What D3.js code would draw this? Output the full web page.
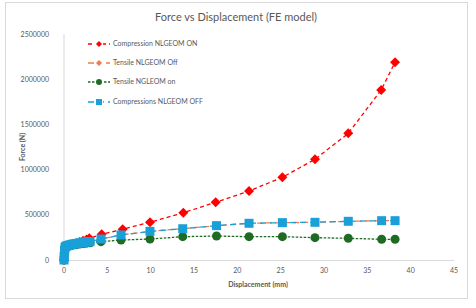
<!DOCTYPE html>
<html>
<head>
<meta charset="utf-8">
<script src="https://cdn.jsdelivr.net/npm/d3@7"></script>
<style>
  body { margin: 0; background: #fff; }
  text { font-family: Lato, "Open Sans", sans-serif; }
</style>
</head>
<body>
<div id="chart"></div>
<script>
// Compression NLGEOM ON
const compOnX = [0, 0.05, 0.1, 0.2, 0.4, 0.7, 1.0, 1.4, 1.8, 2.2, 2.6, 2.92, 4.35, 6.77, 9.92, 13.77, 17.5, 21.35, 25.2, 28.96, 32.8, 36.6, 38.2];
const compOnY = [0, 80000, 140000, 152000, 160000, 168000, 176000, 186000, 198000, 212000, 226000, 240000, 284000, 340000, 417000, 523000, 638000, 763000, 915000, 1114000, 1401000, 1881000, 2187000];
// Tensile NLGEOM Off
const tensOffX = [0, 0.05, 0.1, 0.2, 0.4, 0.7, 1.0, 1.4, 1.8, 2.2, 2.6, 3.0, 4.27, 6.58, 9.92, 13.7, 17.6, 21.35, 25.2, 28.96, 32.8, 36.65, 38.2];
const tensOffY = [0, 70000, 135000, 150000, 157000, 165000, 172000, 180000, 187000, 194000, 199000, 203000, 232000, 277000, 317000, 346000, 380000, 406000, 413000, 417000, 428000, 435000, 435000];
// Tensile NGLEOM on
const tensOnX = [0, 0.05, 0.1, 0.2, 0.4, 0.7, 1.0, 1.4, 1.8, 2.2, 2.6, 3.0, 4.27, 6.58, 9.92, 13.7, 17.6, 21.35, 25.2, 28.96, 32.8, 36.65, 38.2];
const tensOnY = [0, 70000, 130000, 145000, 152000, 158000, 164000, 170000, 176000, 181000, 186000, 191000, 203000, 221000, 232000, 258000, 265000, 258000, 258000, 247000, 240000, 229000, 229000];
// Compressions NLGEOM OFF
const compOffX = [0, 0.02, 0.05, 0.08, 0.12, 0.2, 0.3, 0.45, 0.6, 0.8, 1.0, 1.2, 1.4, 1.6, 1.8, 2.0, 2.2, 2.4, 2.6, 2.8, 3.0, 4.27, 6.58, 9.92, 13.7, 17.6, 21.35, 25.2, 28.96, 32.8, 36.65, 38.2];
const compOffY = [0, 30000, 70000, 110000, 140000, 150000, 155000, 160000, 165000, 170000, 175000, 178000, 182000, 185000, 188000, 192000, 195000, 198000, 200000, 202000, 203000, 232000, 277000, 317000, 346000, 380000, 406000, 413000, 417000, 428000, 435000, 435000];

const seriesNames = ["Compression NLGEOM ON", "Tensile NLGEOM Off", "Tensile NGLEOM on", "Compressions NLGEOM OFF"];
const xTicks = [0, 5, 10, 15, 20, 25, 30, 35, 40, 45];
const yTicks = [0, 500000, 1000000, 1500000, 2000000, 2500000];

const W = 476, H = 308;
const svg = d3.select("#chart").append("svg").attr("width", W).attr("height", H);

svg.append("rect").attr("x", 5.5).attr("y", 2.5).attr("width", 462).attr("height", 296)
   .attr("fill", "#fff").attr("stroke", "#d9d9d9");

const x = d3.scaleLinear().domain([0, 45]).range([64, 454]);
const y = d3.scaleLinear().domain([0, 2500000]).range([260, 34]);

// axes lines
svg.append("line").attr("x1", x(0)).attr("x2", x(0)).attr("y1", y(2500000)).attr("y2", y(0))
   .attr("stroke", "#d9d9d9");
svg.append("line").attr("x1", x(0)).attr("x2", x(45)).attr("y1", y(0) + 0.5).attr("y2", y(0) + 0.5)
   .attr("stroke", "#d9d9d9");

svg.selectAll(".xt").data(xTicks).join("text")
   .attr("x", d => x(d)).attr("y", 272.5).attr("text-anchor", "middle")
   .attr("font-size", 7).attr("fill", "#595959").text(d => d);

svg.selectAll(".yt").data(yTicks).join("text")
   .attr("x", 49).attr("y", d => y(d) + 2.5).attr("text-anchor", "end")
   .attr("font-size", 7).attr("fill", "#595959").text(d => d);

svg.append("text").attr("x", 236).attr("y", 21).attr("text-anchor", "middle")
   .attr("font-size", 11).attr("fill", "#595959").text("Force vs Displacement (FE model)");
svg.append("text").attr("x", 258).attr("y", 287).attr("text-anchor", "middle")
   .attr("font-size", 7).attr("font-weight", "bold").attr("fill", "#595959").text("Displacement (mm)");
svg.append("text").attr("transform", "translate(25,147) rotate(-90)").attr("text-anchor", "middle")
   .attr("font-size", 7).attr("font-weight", "bold").attr("fill", "#595959").text("Force (N)");

const series = [
  { name: seriesNames[0], xs: compOnX, ys: compOnY, color: "#ff0000", dash: "4,3", width: 1.3, shape: "diamond", size: 10 },
  { name: seriesNames[1], xs: tensOffX, ys: tensOffY, color: "#ed7d4f", dash: "6,3", width: 1.3, shape: "diamond", size: 6 },
  { name: seriesNames[2], xs: tensOnX, ys: tensOnY, color: "#1e6b24", dash: "2.5,1.5", width: 1.3, shape: "circle", size: 9 },
  { name: seriesNames[3], xs: compOffX, ys: compOffY, color: "#1aa0d8", dash: "6,4", width: 1.3, shape: "square", size: 9 }
];

function marker(g, shape, size, color) {
  const h = size / 2;
  if (shape === "diamond") g.append("path").attr("d", `M0,${-h}L${h},0L0,${h}L${-h},0Z`).attr("fill", color);
  else if (shape === "circle") g.append("circle").attr("r", h).attr("fill", color);
  else g.append("rect").attr("x", -h).attr("y", -h).attr("width", size).attr("height", size).attr("fill", color);
}

const line = d3.line().x(d => x(d[0])).y(d => y(d[1]));

series.forEach(s => {
  const pts = s.xs.map((v, i) => [v, s.ys[i]]);
  svg.append("path").datum(pts).attr("d", line).attr("fill", "none")
     .attr("stroke", s.color).attr("stroke-width", s.width).attr("stroke-dasharray", s.dash);
  pts.forEach(p => {
    const g = svg.append("g").attr("transform", `translate(${x(p[0])},${y(p[1])})`);
    marker(g, s.shape, s.size, s.color);
  });
});

// legend
const legY = [44, 63, 82, 102];
series.forEach((s, i) => {
  const g = svg.append("g").attr("transform", `translate(88,${legY[i]})`);
  g.append("line").attr("x1", 0).attr("x2", 22).attr("y1", 0).attr("y2", 0)
   .attr("stroke", s.color).attr("stroke-width", 1.3).attr("stroke-dasharray", s.dash);
  const m = g.append("g").attr("transform", "translate(11,0)");
  m.append("rect").attr("x", -4).attr("y", -4).attr("width", 8).attr("height", 8).attr("fill", "#fff");
  marker(m, s.shape, Math.min(s.size, 6), s.color);
  g.append("text").attr("x", 25).attr("y", 2.4).attr("font-size", 7).attr("fill", "#595959").text(s.name);
});
</script>
</body>
</html>
